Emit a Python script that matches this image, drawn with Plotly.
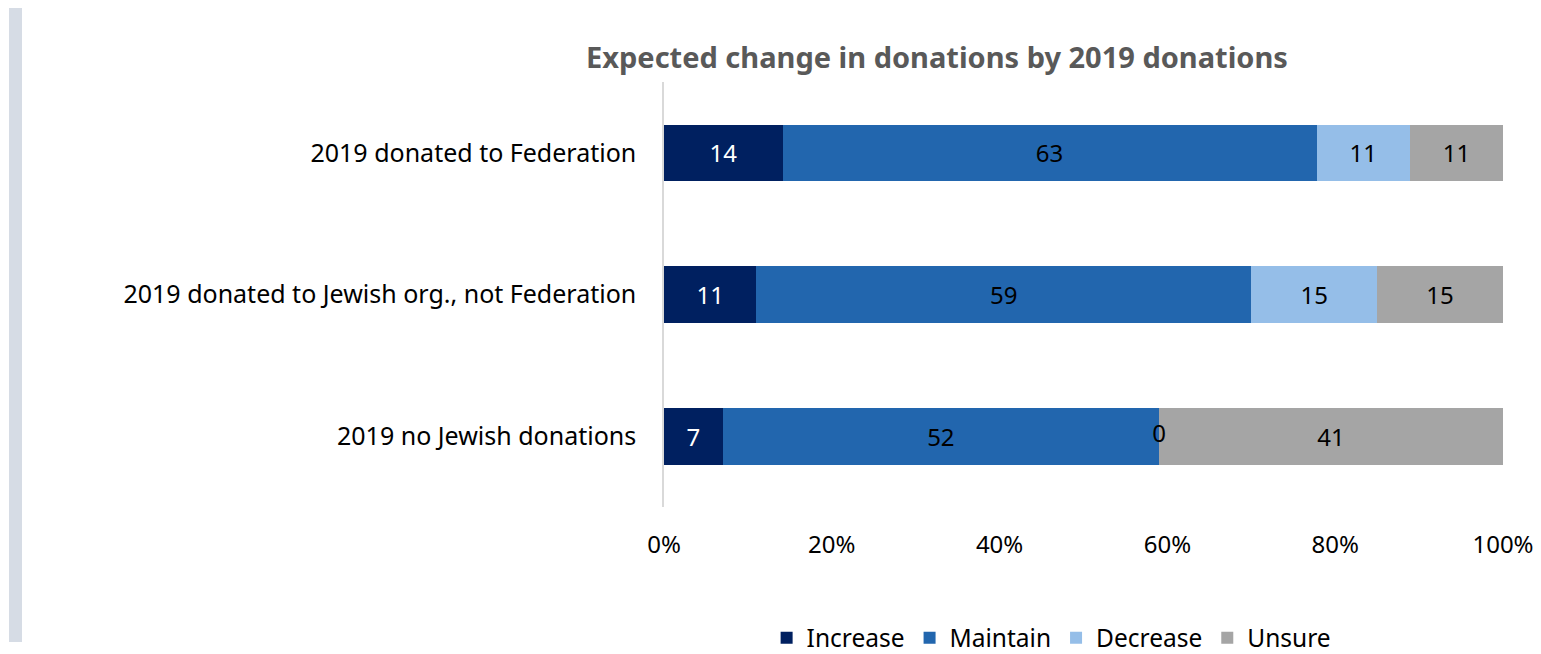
import plotly.graph_objects as go

categories = ["2019 donated to Federation",
              "2019 donated to Jewish org., not Federation",
              "2019 no Jewish donations"]
series_names = ["Increase", "Maintain", "Decrease", "Unsure"]
increase = [14, 11, 7]
maintain = [63, 59, 52]
decrease = [11, 15, 0]
unsure = [11, 15, 41]
x_tick_vals = [0, 20, 40, 60, 80, 100]
x_tick_text = ["0%", "20%", "40%", "60%", "80%", "100%"]
title_text = "Expected change in donations by 2019 donations"

colors = ["#002060", "#2266AE", "#95BEE8", "#A5A5A5"]
text_colors = ["white", "black", "black", "black"]
FONT = "Noto Sans"

series = [increase, maintain, decrease, unsure]
totals = [sum(v) for v in zip(*series)]

fig = go.Figure()
for name, vals, col, tcol in zip(series_names, series, colors, text_colors):
    fig.add_trace(go.Bar(
        name=name, y=categories, x=vals, orientation="h",
        marker=dict(color=col, line=dict(width=0)),
        text=[str(v) if v != 0 else "" for v in vals],
        textposition="inside", insidetextanchor="middle",
        textfont=dict(color=tcol, size=24, family=FONT),
        constraintext="none", hoverinfo="skip",
    ))

# labels for zero-width segments
zx, zy, zt = [], [], []
for i, cat in enumerate(categories):
    cum = 0
    for vals in series:
        if vals[i] == 0:
            zx.append(cum / totals[i] * 100)
            zy.append(cat)
            zt.append("0")
        cum += vals[i]
fig.add_trace(go.Scatter(x=zx, y=zy, mode="text", text=zt, textposition="middle center",
                         textfont=dict(color="black", size=24, family=FONT),
                         showlegend=False, hoverinfo="skip"))

fig.update_layout(
    barmode="stack", barnorm="percent", bargap=0.6,
    width=1541, height=654,
    margin=dict(l=664, r=38, t=82, b=147, autoexpand=False),
    paper_bgcolor="white", plot_bgcolor="white",
    font=dict(family=FONT, size=24, color="black"),
    showlegend=True,
    legend=dict(orientation="h", x=0.462, xanchor="center", y=-0.308, yanchor="middle",
                font=dict(size=24.5, family=FONT, color="black"), traceorder="normal",
                itemwidth=30, tracegroupgap=0),
    xaxis=dict(range=[0, 100], tickvals=x_tick_vals, ticktext=x_tick_text,
               showgrid=False, zeroline=False, showline=False, ticks="",
               ticklabelstandoff=21, tickfont=dict(size=24, family=FONT, color="black")),
    yaxis=dict(autorange="reversed", showgrid=False, zeroline=False, showline=True,
               linecolor="#D9D9D9", linewidth=1.5, ticks="", ticklabelstandoff=21,
               tickfont=dict(size=25, family=FONT, color="black")),
    annotations=[dict(text="<b>" + title_text + "</b>", xref="paper", yref="paper",
                      x=0.325, y=1.059, xanchor="center", yanchor="middle", showarrow=False,
                      font=dict(size=29, family=FONT, color="#595959"))],
    shapes=[dict(type="rect", xref="paper", yref="paper",
                 x0=(9 - 664) / 839, x1=(22 - 664) / 839,
                 y0=(507 - 642) / 425, y1=(507 - 8) / 425,
                 fillcolor="#D6DCE5", line=dict(width=0), layer="below")],
)

fig.write_html("out.html", config={"displayModeBar": False},
               post_script="document.body.style.margin='0';document.body.style.overflow='hidden';")
